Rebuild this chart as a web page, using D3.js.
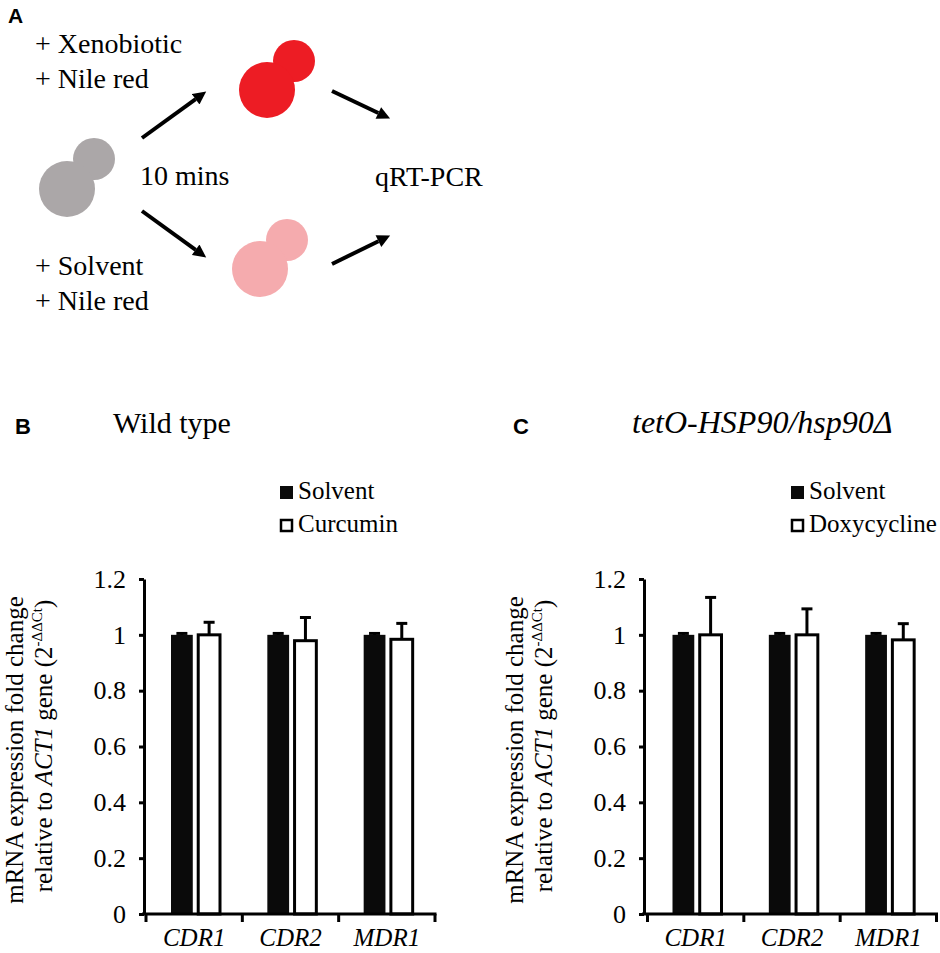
<!DOCTYPE html>
<html>
<head>
<meta charset="utf-8">
<script src="https://cdn.jsdelivr.net/npm/d3@7"></script>
<style>
  body { margin: 0; background: #fff; }
  svg { display: block; }
</style>
</head>
<body>
<script>
// chart values
var categories = ['CDR1', 'CDR2', 'MDR1'];
var yTicks = [0, 0.2, 0.4, 0.6, 0.8, 1, 1.2];
var yTickLabels = ['0', '0.2', '0.4', '0.6', '0.8', '1', '1.2'];

var seriesB = ['Solvent', 'Curcumin'];
var solventB = [1, 1, 1];
var solventErrB = [0.005, 0.005, 0.005];
var curcumin = [1.0, 0.979, 0.984];
var curcuminErr = [0.045, 0.083, 0.057];

var seriesC = ['Solvent', 'Doxycycline'];
var solventC = [1, 1, 1];
var solventErrC = [0.005, 0.005, 0.005];
var doxycycline = [1.0, 1.0, 0.982];
var doxycyclineErr = [0.134, 0.093, 0.058];

var w = 940;
var h = 953;
var serif = '"Liberation Serif", "Times New Roman", serif';
var sans = '"Liberation Sans", Arial, sans-serif';

var svg = d3.select('body')
    .append('svg')
    .attr('width', w)
    .attr('height', h);

// ---------- panel A: schematic ----------
svg.append('defs').append('marker')
    .attr('id', 'head')
    .attr('viewBox', '0 0 10 10')
    .attr('refX', 0)
    .attr('refY', 5)
    .attr('markerUnits', 'userSpaceOnUse')
    .attr('markerWidth', 14)
    .attr('markerHeight', 13)
    .attr('orient', 'auto')
    .append('path')
    .attr('d', 'M0,0 L10,5 L0,10 z')
    .attr('fill', '#000');

svg.append('text').text('A')
    .attr('x', 8).attr('y', 23)
    .attr('font-family', sans).attr('font-weight', 'bold').attr('font-size', 21);

var labelsA = [
    { t: '+ Xenobiotic', x: 35, y: 53 },
    { t: '+ Nile red', x: 35, y: 88 },
    { t: '10 mins', x: 140, y: 185 },
    { t: 'qRT-PCR', x: 375, y: 186 },
    { t: '+ Solvent', x: 35, y: 275 },
    { t: '+ Nile red', x: 35, y: 310 }
];
svg.selectAll('text.a')
    .data(labelsA)
    .enter()
    .append('text')
    .attr('class', 'a')
    .text(d => d.t)
    .attr('x', d => d.x)
    .attr('y', d => d.y)
    .attr('font-family', serif)
    .attr('font-size', 28);

var cells = [
    { x: 67, y: 189, sx: 94, sy: 159, c: '#aba7a8' },
    { x: 267, y: 90, sx: 294, sy: 61, c: '#ed1c24' },
    { x: 260, y: 269, sx: 287, sy: 240, c: '#f5abae' }
];
cells.forEach(function (c) {
    svg.append('circle').attr('cx', c.sx).attr('cy', c.sy).attr('r', 21).attr('fill', c.c);
    svg.append('circle').attr('cx', c.x).attr('cy', c.y).attr('r', 28).attr('fill', c.c);
});

var arrows = [
    [142, 138, 207, 91],
    [142, 211, 207, 258],
    [332, 91, 391, 119],
    [332, 264, 391, 235]
];
arrows.forEach(function (a) {
    var dx = a[2] - a[0], dy = a[3] - a[1];
    var len = Math.sqrt(dx * dx + dy * dy);
    svg.append('line')
        .attr('x1', a[0]).attr('y1', a[1])
        .attr('x2', a[2] - dx / len * 14).attr('y2', a[3] - dy / len * 14)
        .attr('stroke', '#000')
        .attr('stroke-width', 4)
        .attr('marker-end', 'url(#head)');
});

// ---------- bar panels ----------
var y = d3.scaleLinear()
    .domain([0, 1.2])
    .range([914, 579]);

function panel(opt) {
    var g = svg.append('g');
    var x = d3.scaleBand()
        .domain(categories)
        .range(opt.range)
        .padding(0);
    var sub = d3.scaleBand()
        .domain([0, 1])
        .range([25, 74])
        .paddingInner(0.2);

    // panel letter and title
    g.append('text').text(opt.letter)
        .attr('x', opt.letterX).attr('y', 434)
        .attr('font-family', sans).attr('font-weight', 'bold').attr('font-size', 22);
    g.append('text').text(opt.title)
        .attr('x', opt.titleX).attr('y', 433)
        .attr('font-family', serif)
        .attr('font-style', opt.titleItalic ? 'italic' : 'normal')
        .attr('font-size', opt.titleSize);

    // legend
    var leg = g.selectAll('g.leg')
        .data(opt.series)
        .enter()
        .append('g')
        .attr('transform', (d, i) => 'translate(' + opt.legendX + ',' + (486 + i * 33) + ')');
    leg.append('rect')
        .attr('x', (d, i) => i ? 1 : 0)
        .attr('y', (d, i) => i ? 1 : 0)
        .attr('width', (d, i) => i ? 11 : 13)
        .attr('height', (d, i) => i ? 11 : 13)
        .attr('fill', (d, i) => i ? '#fff' : '#0a0a0a')
        .attr('stroke', (d, i) => i ? '#000' : 'none')
        .attr('stroke-width', 2.5);
    leg.append('text')
        .text(d => d)
        .attr('x', 18)
        .attr('y', 13)
        .attr('font-family', serif)
        .attr('font-size', 25);

    // bars
    var groups = [
        { vals: opt.solvent, errs: opt.solventErr, fill: '#0a0a0a', stroke: 'none' },
        { vals: opt.treat, errs: opt.treatErr, fill: '#fff', stroke: '#000' }
    ];
    groups.forEach(function (s, si) {
        g.selectAll(null)
            .data(s.vals)
            .enter()
            .append('rect')
            .attr('x', (d, i) => x(categories[i]) + sub(si))
            .attr('y', d => y(d))
            .attr('width', sub.bandwidth())
            .attr('height', d => y(0) - y(d))
            .attr('fill', s.fill)
            .attr('stroke', s.stroke)
            .attr('stroke-width', 3);
    });
    // error bars (upper only)
    groups.forEach(function (s, si) {
        var cx = i => x(categories[i]) + sub(si) + sub.bandwidth() / 2;
        g.selectAll(null)
            .data(s.vals)
            .enter()
            .append('line')
            .attr('x1', (d, i) => cx(i)).attr('x2', (d, i) => cx(i))
            .attr('y1', d => y(d))
            .attr('y2', (d, i) => y(d + s.errs[i]))
            .attr('stroke', '#000').attr('stroke-width', 3);
        g.selectAll(null)
            .data(s.vals)
            .enter()
            .append('line')
            .attr('x1', (d, i) => cx(i) - 5.5).attr('x2', (d, i) => cx(i) + 5.5)
            .attr('y1', (d, i) => y(d + s.errs[i]))
            .attr('y2', (d, i) => y(d + s.errs[i]))
            .attr('stroke', '#000').attr('stroke-width', 3);
    });

    // y axis
    var yAxis = d3.axisLeft(y)
        .tickValues(yTicks)
        .tickFormat((d, i) => yTickLabels[i])
        .tickSize(5)
        .tickSizeOuter(0)
        .tickPadding(13);
    var ya = g.append('g')
        .attr('transform', 'translate(' + opt.axisX + ',0)')
        .call(yAxis);
    ya.select('.domain').attr('stroke', '#000').attr('stroke-width', 3);
    ya.selectAll('.tick line').attr('stroke', '#000').attr('stroke-width', 3);
    ya.selectAll('.tick text')
        .attr('font-family', serif)
        .attr('font-size', 26)
        .attr('fill', '#000');

    // x axis: line, ticks at band boundaries, labels at band centres
    g.append('line')
        .attr('x1', opt.axisX - 2).attr('x2', x.range()[1] + 1.5)
        .attr('y1', y(0)).attr('y2', y(0))
        .attr('stroke', '#000').attr('stroke-width', 3);
    var bounds = categories.map(d => x(d)).concat([x.range()[1]]);
    g.selectAll(null)
        .data(bounds)
        .enter()
        .append('line')
        .attr('x1', d => d).attr('x2', d => d)
        .attr('y1', y(0)).attr('y2', y(0) + 8)
        .attr('stroke', '#000').attr('stroke-width', 3);
    var xAxis = d3.axisBottom(x).tickSize(0).tickPadding(0);
    var xa = g.append('g')
        .attr('transform', 'translate(0,' + y(0) + ')')
        .call(xAxis);
    xa.select('.domain').remove();
    xa.selectAll('.tick text')
        .attr('dy', null)
        .attr('y', 32)
        .attr('font-family', serif)
        .attr('font-style', 'italic')
        .attr('font-size', 25)
        .attr('fill', '#000');

    // y axis title
    g.append('text')
        .attr('transform', 'translate(' + (opt.axisX - 121) + ',750) rotate(-90)')
        .attr('text-anchor', 'middle')
        .attr('font-family', serif)
        .attr('font-size', 25)
        .text('mRNA expression fold change');
    var t2 = g.append('text')
        .attr('transform', 'translate(' + (opt.axisX - 92) + ',746) rotate(-90)')
        .attr('text-anchor', 'middle')
        .attr('font-family', serif)
        .attr('font-size', 25);
    t2.append('tspan').text('relative to ');
    t2.append('tspan').attr('font-style', 'italic').text('ACT1');
    t2.append('tspan').text(' gene (2');
    t2.append('tspan').attr('font-size', 15).attr('dy', -10).text('-ΔΔCt');
    t2.append('tspan').attr('dy', 10).text(')');
}

panel({
    letter: 'B', letterX: 15,
    title: 'Wild type', titleX: 113, titleItalic: false, titleSize: 30,
    series: seriesB, legendX: 280,
    solvent: solventB, solventErr: solventErrB,
    treat: curcumin, treatErr: curcuminErr,
    axisX: 144, range: [146, 435]
});

panel({
    letter: 'C', letterX: 513,
    title: 'tetO-HSP90/hsp90Δ', titleX: 632, titleItalic: true, titleSize: 32,
    series: seriesC, legendX: 791,
    solvent: solventC, solventErr: solventErrC,
    treat: doxycycline, treatErr: doxycyclineErr,
    axisX: 644, range: [647.5, 936.5]
});
</script>
</body>
</html>
